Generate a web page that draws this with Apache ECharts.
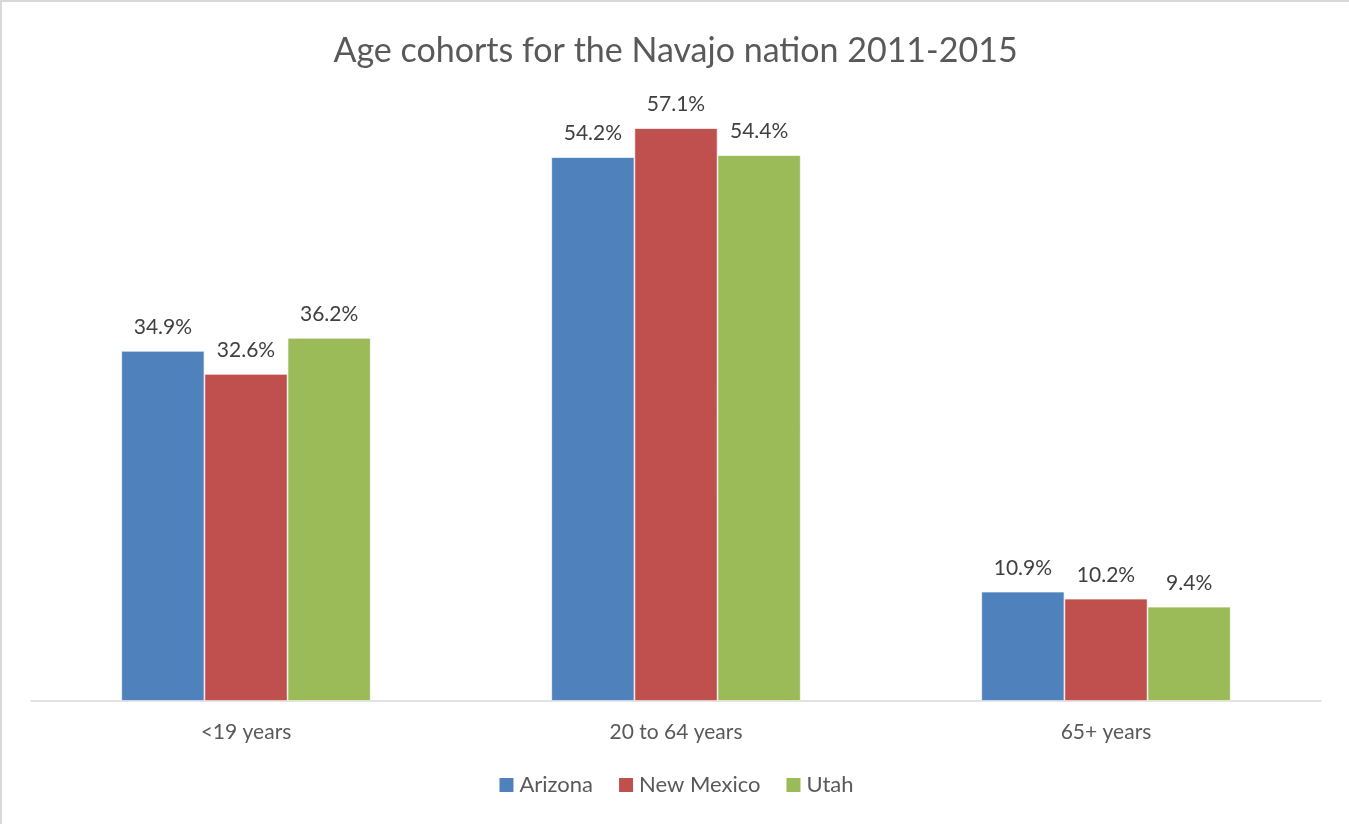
<!DOCTYPE html>
<html><head><meta charset="utf-8">
<script src="https://cdn.jsdelivr.net/npm/echarts@6/dist/echarts.min.js"></script>
<style>
html,body{margin:0;padding:0;background:#fff;}
#c{position:absolute;left:0;top:0;width:1349px;height:824px;box-sizing:border-box;border-top:2px solid #d9d9d9;border-left:2px solid #d9d9d9;}
</style></head>
<body><div id="c"></div>
<script>
const categories = ['<19 years', '20 to 64 years', '65+ years'];
const seriesNames = ['Arizona', 'New Mexico', 'Utah'];
const arizona = [34.9, 54.2, 10.9];
const newMexico = [32.6, 57.1, 10.2];
const utah = [36.2, 54.4, 9.4];
const colors = ['#4F81BD', '#C0504D', '#9BBB59'];
const font = 'Lato, "Open Sans", sans-serif';

const chart = echarts.init(document.getElementById('c'), null, {renderer: 'canvas'});
const mk = (name, data, color) => ({
  name, type: 'bar', data, barGap: '0%', barCategoryGap: '42%',
  itemStyle: {color, borderColor: '#fff', borderWidth: 0.7},
  label: {show: true, position: 'top', distance: 13, formatter: p => p.value.toFixed(1) + '%',
    color: '#404040', fontSize: 21, fontFamily: font}
});
chart.setOption({
  animation: false,
  color: colors,
  title: {text: 'Age cohorts for the Navajo nation 2011-2015', left: 'center', top: 27,
    textStyle: {color: '#595959', fontSize: 34, fontWeight: 'normal', fontFamily: font}},
  legend: {bottom: 23, left: 'center', itemWidth: 16, itemHeight: 16, itemGap: 24,
    icon: 'rect', textStyle: {color: '#595959', fontSize: 22, fontFamily: font},
    data: seriesNames},
  grid: {left: 29, right: 28, top: 97, bottom: 123},
  xAxis: {type: 'category', data: categories,
    axisLine: {lineStyle: {color: '#d9d9d9', width: 1.5}}, axisTick: {show: false},
    axisLabel: {color: '#595959', fontSize: 21, fontFamily: font, margin: 21}},
  yAxis: {type: 'value', min: 0, max: 60, show: false, splitLine: {show: false}},
  series: [mk(seriesNames[0], arizona, colors[0]), mk(seriesNames[1], newMexico, colors[1]), mk(seriesNames[2], utah, colors[2])]
});
</script></body></html>
